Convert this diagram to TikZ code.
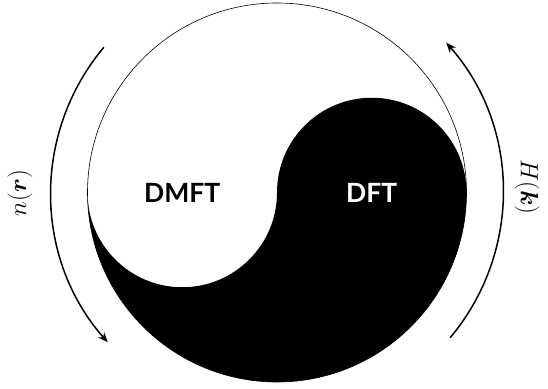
\documentclass[tikz,border=0pt]{standalone}
\usepackage{amsmath}
\usepackage{bm}
\usepackage{fontspec}
\newfontfamily\latofont{Lato}
\usetikzlibrary{arrows.meta}
\tikzset{
  lbl/.style={font=\latofont\bfseries\fontsize{26.5}{30}\selectfont, inner sep=0pt},
  mathlbl/.style={font=\fontsize{33}{40}\selectfont, inner sep=0pt},
  flowarc/.style={line width=1.5pt, -{Stealth[length=10pt,width=8pt]}}
}
\begin{document}
\begin{tikzpicture}[x=1pt,y=1pt]
\useasboundingbox (0,0) rectangle (548,388);
\coordinate (O) at (277,195.5);
\coordinate (L) at (87.5,195.5);
% yin-yang black part
\fill[black] (L) arc[start angle=180,end angle=360,radius=189.5]
  arc[start angle=0,end angle=180,radius=94.75]
  arc[start angle=0,end angle=-180,radius=94.75] -- cycle;
\draw[line width=0.6pt] (O) circle[radius=189.5];
\node[lbl] (dmft) at (182.25,195.5) {DMFT};
\node[lbl,text=white] (dft) at (371.75,195.5) {DFT};
% arrows
\coordinate (ls) at ([shift={(140:226)}]O);
\coordinate (rs) at ([shift={(-40:226)}]O);
\draw[flowarc] (ls) arc[start angle=140,end angle=221.5,radius=226];
\draw[flowarc] (rs) arc[start angle=-40,end angle=41.5,radius=226];
\node[mathlbl,rotate=90] (nr) at (20,195) {$n(\bm{r})$};
\node[mathlbl,rotate=-90] (hk) at (527,201) {$H(\bm{k})$};
\end{tikzpicture}
\end{document}
